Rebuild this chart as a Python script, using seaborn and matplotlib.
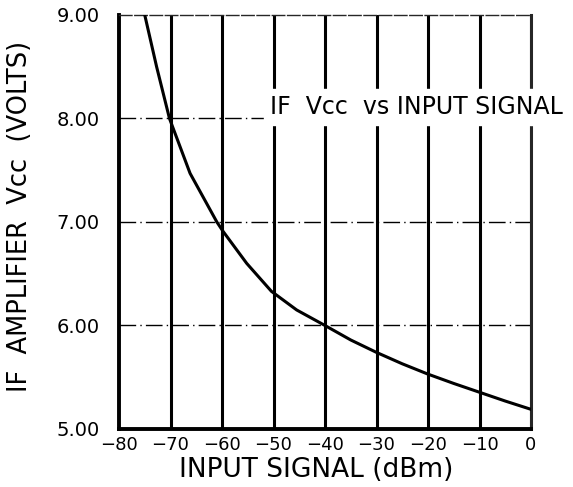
import numpy as np
import pandas as pd
import seaborn as sns
import matplotlib.pyplot as plt

# values
signal_dbm = [-75.0, -72.7, -70.2, -66.2, -61.0, -59.8, -55.2, -50.4, -45.5,
              -40.0, -35.0, -30.0, -25.0, -20.0, -15.0, -10.0, -5.0, 0.0]
vcc_volts = [9.00, 8.50, 8.00, 7.47, 7.00, 6.91, 6.60, 6.33, 6.15,
             6.00, 5.86, 5.74, 5.63, 5.53, 5.44, 5.355, 5.27, 5.19]
x_ticks = [-80, -70, -60, -50, -40, -30, -20, -10, 0]
y_ticks = [5.0, 6.0, 7.0, 8.0, 9.0]

df = pd.DataFrame({"signal": signal_dbm, "vcc": vcc_volts})

sns.set_style("white")
plt.rcParams['font.family'] = ['DejaVu Sans']
plt.rcParams['text.color'] = 'black'
plt.rcParams['axes.labelcolor'] = 'black'
plt.rcParams['xtick.color'] = 'black'
plt.rcParams['ytick.color'] = 'black'

fig = plt.figure(figsize=(5.73, 4.87), dpi=100)
ax = fig.add_axes([0.2077, 0.1191, 0.719, 0.8501])

# grid: heavy verticals, dashed horizontals
for xv in x_ticks[1:]:
    ax.axvline(xv, color="black", lw=2.2, zorder=1)
for yv in y_ticks[1:-1]:
    ax.axhline(yv, color="black", lw=1.0, dashes=(12, 3, 1, 3), zorder=1)

sns.lineplot(data=df, x="signal", y="vcc", color="black", lw=2.2, ax=ax, zorder=3)

ax.set_xlim(-80, 0)
ax.set_ylim(5, 9)
ax.set_xticks(x_ticks)
ax.set_xticklabels([f"\u2212{abs(v)}" if v < 0 else str(v) for v in x_ticks])
ax.set_yticks(y_ticks)
ax.set_yticklabels([f"{v:.2f}" for v in y_ticks])
ax.tick_params(axis="x", labelsize=13, length=0, pad=5)
ax.tick_params(axis="y", labelsize=14, length=0, pad=14)

for side in ["left", "bottom"]:
    ax.spines[side].set_linewidth(2.8)
    ax.spines[side].set_color("black")
ax.spines["top"].set_linewidth(1.0)
ax.spines["top"].set_linestyle((0, (9, 2)))
ax.spines["right"].set_linewidth(2.2)

ax.set_xlabel("INPUT SIGNAL (dBm)", fontsize=19)
ax.xaxis.set_label_coords(0.478, -0.068)
ax.set_ylabel("IF  AMPLIFIER  Vcc  (VOLTS)", fontsize=18.5)
ax.yaxis.set_label_coords(-0.208, 0.514)

ax.text(-50.7, 8.11, "IF  Vcc  vs INPUT SIGNAL", fontsize=17, ha="left", va="center",
        backgroundcolor="white", zorder=4, clip_on=False)

fig.savefig("out.png", dpi=100)
